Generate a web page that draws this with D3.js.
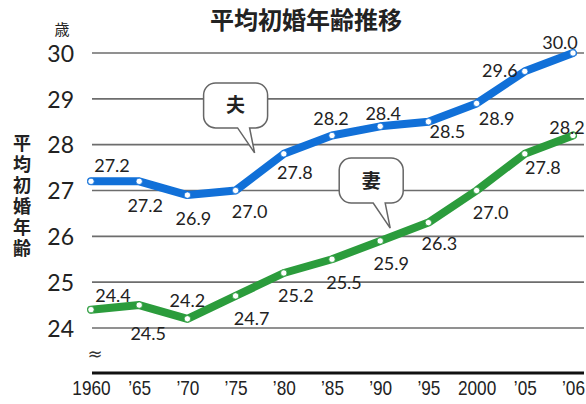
<!DOCTYPE html>
<html>
<head>
<meta charset="utf-8">
<script src="https://cdn.jsdelivr.net/npm/d3@7"></script>
<style>
  body { margin: 0; background: #fff; }
  svg { display: block; }
</style>
</head>
<body>
<div id="chart"></div>
<script>
// Data
const years = ["1960", "’65", "’70", "’75", "’80", "’85", "’90", "’95", "2000", "’05", "’06"];
const husband = [27.2, 27.2, 26.9, 27.0, 27.8, 28.2, 28.4, 28.5, 28.9, 29.6, 30.0];
const wife = [24.4, 24.5, 24.2, 24.7, 25.2, 25.5, 25.9, 26.3, 27.0, 27.8, 28.2];
const yTicks = [24, 25, 26, 27, 28, 29, 30];

// label offsets from each point (dx, dy to text baseline)
const husbandLabelOffsets = [[21, -9], [6, 31], [6, 30], [14, 27], [11, 25], [-1, -11], [3, -6], [19, 16], [20, 22], [-25, 6], [-13, -4]];
const wifeLabelOffsets = [[22, -8], [9, 35], [0, -12], [16, 29], [12, 29], [12, 30], [11, 29], [11, 27], [14, 28], [18, 20], [-6, -2]];

const width = 586, height = 404;
const numFont = "Lato, 'DejaVu Sans', sans-serif";
const jpFont = "'Noto Sans CJK JP', sans-serif";

const svg = d3.select("#chart").append("svg")
  .attr("width", width)
  .attr("height", height);

// Scales
const x = d3.scalePoint()
  .domain(years)
  .range([91, 573]);

const y = d3.scaleLinear()
  .domain([24, 30])
  .range([328, 53]);

const baseY = 373;

// Title
svg.append("text")
  .attr("x", 306).attr("y", 29)
  .attr("text-anchor", "middle")
  .attr("font-family", jpFont)
  .attr("font-weight", "bold")
  .attr("font-size", 24)
  .attr("fill", "#222")
  .text("平均初婚年齢推移");

// Unit
svg.append("text")
  .attr("x", 62).attr("y", 35)
  .attr("text-anchor", "middle")
  .attr("font-family", jpFont)
  .attr("font-size", 15)
  .attr("fill", "#222")
  .text("歳");

// Y axis title (vertical)
svg.append("text")
  .attr("x", 22)
  .attr("y", 134)
  .attr("font-family", jpFont)
  .attr("font-weight", "bold")
  .attr("font-size", 18)
  .attr("letter-spacing", 3)
  .attr("fill", "#222")
  .style("writing-mode", "vertical-rl")
  .text("平均初婚年齢");

// Gridlines
svg.append("g").selectAll("line")
  .data(yTicks)
  .enter().append("line")
  .attr("x1", 92).attr("x2", 584)
  .attr("y1", d => y(d)).attr("y2", d => y(d))
  .attr("stroke", "#6d6d6d")
  .attr("stroke-width", 1.6);

// Y axis labels
const yAxis = d3.axisLeft(y).tickValues(yTicks).tickSize(0).tickPadding(0).tickFormat(d3.format("d"));
const yg = svg.append("g")
  .attr("transform", "translate(74,0)")
  .call(yAxis);
yg.select(".domain").remove();
yg.selectAll("text")
  .attr("font-family", numFont)
  .attr("font-size", 23)
  .attr("fill", "#222")
  .attr("dy", "0.36em");

// Baseline
svg.append("line")
  .attr("x1", 92).attr("x2", 584)
  .attr("y1", baseY).attr("y2", baseY)
  .attr("stroke", "#111")
  .attr("stroke-width", 3);

// Break mark
svg.append("text")
  .attr("x", 95).attr("y", 360)
  .attr("text-anchor", "middle")
  .attr("font-family", "'DejaVu Sans', sans-serif")
  .attr("font-size", 18)
  .attr("fill", "#333")
  .text("≈");

// X axis labels
const xAxis = d3.axisBottom(x).tickSize(0).tickPadding(0);
const xg = svg.append("g")
  .attr("transform", `translate(0,${baseY})`)
  .call(xAxis);
xg.select(".domain").remove();
xg.selectAll("text")
  .attr("font-family", "'Liberation Sans', sans-serif")
  .attr("font-size", 21)
  .attr("fill", "#222")
  .attr("dy", "1.05em")
  .attr("transform", "scale(0.82,1)");

svg.append("text")
  .attr("x", 568).attr("y", 418)
  .attr("text-anchor", "middle")
  .attr("font-family", jpFont)
  .attr("font-size", 16)
  .attr("fill", "#222")
  .text("（年）");

// Callouts
const callouts = [
  { text: "夫", year: "’75", dx: 19, v: 27.82 },
  { text: "妻", year: "’90", dx: 10, v: 26.18 }
];

callouts.forEach(c => {
  const tx = x(c.year) + c.dx, ty = y(c.v);
  const left = tx - 51, top = ty - 70, w = 64, h = 45, r = 12;
  const right = left + w, bottom = top + h;
  const p = d3.path();
  p.moveTo(left + r, top);
  p.lineTo(right - r, top);
  p.arcTo(right, top, right, top + r, r);
  p.lineTo(right, bottom - r);
  p.arcTo(right, bottom, right - r, bottom, r);
  p.lineTo(tx - 5, bottom);
  p.lineTo(tx, ty);
  p.lineTo(tx - 17, bottom);
  p.lineTo(left + r, bottom);
  p.arcTo(left, bottom, left, bottom - r, r);
  p.lineTo(left, top + r);
  p.arcTo(left, top, left + r, top, r);
  p.closePath();
  svg.append("path")
    .attr("d", p.toString())
    .attr("fill", "#fff")
    .attr("stroke", "#666")
    .attr("stroke-width", 1.5);
  svg.append("text")
    .attr("x", left + w / 2).attr("y", top + h / 2 + 7)
    .attr("text-anchor", "middle")
    .attr("font-family", jpFont)
    .attr("font-weight", "bold")
    .attr("font-size", 19)
    .attr("fill", "#222")
    .text(c.text);
});

// Series
const series = [
  { values: husband, color: "#1170d8", offsets: husbandLabelOffsets },
  { values: wife, color: "#2b9c3c", offsets: wifeLabelOffsets }
];

const line = d3.line()
  .x((d, i) => x(years[i]))
  .y(d => y(d));

series.forEach(s => {
  svg.append("path")
    .datum(s.values)
    .attr("d", line)
    .attr("fill", "none")
    .attr("stroke", s.color)
    .attr("stroke-width", 8)
    .attr("stroke-linejoin", "round")
    .attr("stroke-linecap", "round");

  svg.append("g").selectAll("circle")
    .data(s.values)
    .enter().append("circle")
    .attr("cx", (d, i) => x(years[i]))
    .attr("cy", d => y(d))
    .attr("r", 3.2)
    .attr("fill", "#fff")
    .attr("stroke", s.color)
    .attr("stroke-width", 0.8);

  svg.append("g").selectAll("text")
    .data(s.values)
    .enter().append("text")
    .attr("x", (d, i) => x(years[i]) + s.offsets[i][0])
    .attr("y", (d, i) => y(d) + s.offsets[i][1])
    .attr("text-anchor", "middle")
    .attr("font-family", numFont)
    .attr("font-size", 18)
    .attr("fill", "#222")
    .text(d => d.toFixed(1));
});
</script>
</body>
</html>
